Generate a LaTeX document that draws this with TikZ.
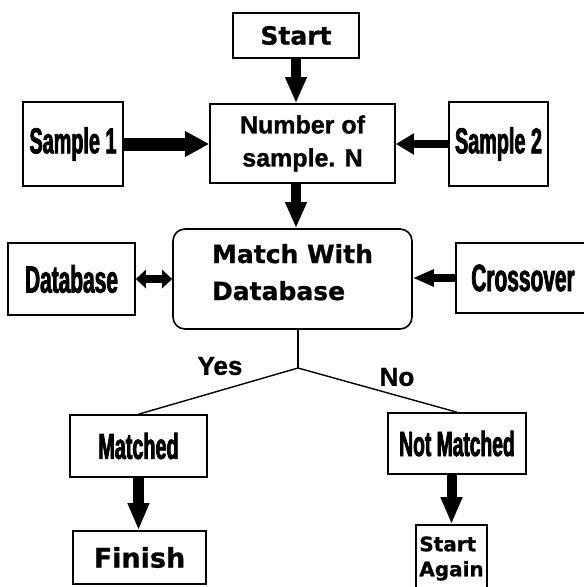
\documentclass[tikz,border=0pt]{standalone}
\usepackage{fontspec}
\usepackage{tikz}
\usetikzlibrary{positioning,
                calc,
                arrows.meta}
\newfontfamily\heavyfont{DejaVu Sans}[FakeBold=1]
\newfontfamily\arialfont{Liberation Sans}[FakeBold=1.2]
\newfontfamily\narrowfont{Liberation Sans}[FakeStretch=0.55,FakeBold=2]

\begin{document}
\begin{tikzpicture}[x=1pt,y=-1pt]

\tikzset{
stepbox/.style={
draw=black,
line width=1.6pt,
inner sep=0pt
},
roundbox/.style={
stepbox,
rounded corners=12pt
},
heavylabel/.style={
align=center,
font=\heavyfont\bfseries\fontsize{25}{37}\selectfont
},
arial/.style={
align=center,
font=\arialfont\bfseries\fontsize{25}{33}\selectfont
},
narrow/.style={
font=\narrowfont\bfseries\fontsize{36}{40}\selectfont
},
downarrow/.style={
line width=10pt,
-{Triangle[length=26pt,width=20pt]}
},
branch/.style={
line width=1.4pt
}
}

\useasboundingbox (0,0) rectangle (584,587);

%--------------------------------------------------
% TOP ROW
%--------------------------------------------------

\node[stepbox,heavylabel,minimum width=126pt,minimum height=45pt]
(start) at (296,35.5) {Start};

\node[stepbox,arial,minimum width=185pt,minimum height=79pt]
(number) at (302.5,143.5) {Number of\\sample. N};

\node[stepbox,narrow,minimum width=100pt,minimum height=84pt]
(sample1) at (73,144) {Sample 1};

\node[stepbox,narrow,minimum width=99pt,minimum height=84pt]
(sample2) at (498.5,144) {Sample 2};

%--------------------------------------------------
% MATCHING
%--------------------------------------------------

\node[roundbox,heavylabel,align=left,text depth=14pt,
minimum width=239pt,minimum height=100pt]
(match) at (292.5,279) {Match With\\Database};

\node[stepbox,narrow,font=\narrowfont\bfseries\fontsize{38}{40}\selectfont,
minimum width=127pt,minimum height=72pt]
(database) at (71.5,279) {Database};

\node[stepbox,narrow,font=\narrowfont\bfseries\fontsize{38}{40}\selectfont,
minimum width=134pt,minimum height=70pt]
(crossover) at (523,278) {Crossover};

\coordinate (split) at (298,368);

\node[arial,font=\arialfont\bfseries\fontsize{26}{30}\selectfont]
(yes) at (220,366) {Yes};

\node[arial,font=\arialfont\bfseries\fontsize{26}{30}\selectfont]
(no) at (397,377) {No};

%--------------------------------------------------
% RESULTS
%--------------------------------------------------

\node[stepbox,narrow,font=\narrowfont\bfseries\fontsize{36}{40}\selectfont,
minimum width=137pt,minimum height=62pt]
(matched) at (138.5,446) {Matched};

\node[stepbox,narrow,font=\narrowfont\bfseries\fontsize{35}{40}\selectfont,
minimum width=138pt,minimum height=61pt]
(notmatched) at (457,443.5) {Not Matched};

\node[stepbox,heavylabel,font=\heavyfont\bfseries\fontsize{27}{30}\selectfont,
minimum width=133pt,minimum height=53pt]
(finish) at (139.5,557.5) {Finish};

\node[stepbox,heavylabel,align=left,font=\heavyfont\bfseries\fontsize{20}{25}\selectfont,
minimum width=71pt,minimum height=67pt]
(again) at (451.5,558.5) {Start\\Again};

%--------------------------------------------------
% CONNECTORS
%--------------------------------------------------

\draw[downarrow] (start.south) -- (start.south |- number.north);
\draw[downarrow] (start.south |- number.south) -- (start.south |- match.north);

\draw[line width=13pt,-{Triangle[length=24pt,width=24pt]}]
(sample1.east) -- (sample1.east -| number.west);
\draw[line width=8pt,-{Triangle[length=18pt,width=20pt]}]
(sample2.west) -- (sample2.west -| number.east);

\draw[line width=8pt,{Triangle[length=10pt,width=18pt]}-{Triangle[length=10pt,width=18pt]}]
(database.east) -- (database.east -| match.west);
\draw[line width=8pt,-{Triangle[length=21pt,width=16pt]}]
(crossover.west) -- (crossover.west -| match.east);

\draw[branch] (split |- match.south) -- (split);
\draw[branch] (split) -- (matched.north);
\draw[branch] (split) -- (notmatched.north);

\draw[downarrow,line width=11pt,-{Triangle[length=27pt,width=20pt]}]
(matched.south) -- (matched.south |- finish.north);
\draw[downarrow,-{Triangle[length=27pt,width=20pt]}]
(notmatched.south -| again.north) -- (again.north);

\end{tikzpicture}
\end{document}
